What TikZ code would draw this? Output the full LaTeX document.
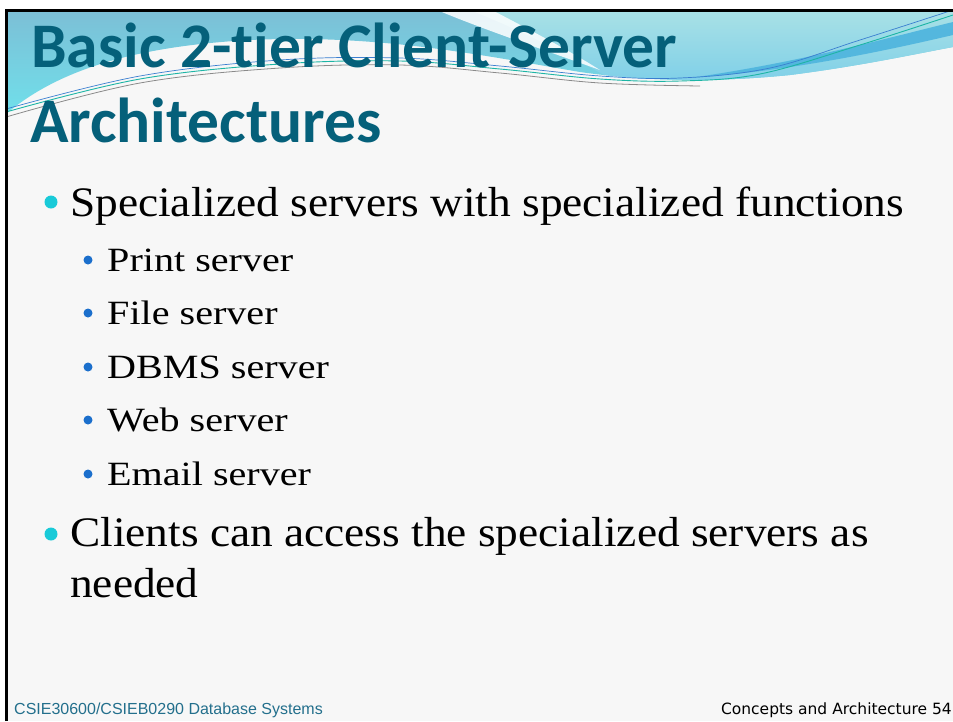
\documentclass[tikz,border=0pt]{standalone}
\usepackage{fontspec}
\newfontfamily\titlefont[Ligatures=NoCommon]{Carlito}
\newfontfamily\bodyfont[FakeStretch=1.08]{Liberation Serif}
\newfontfamily\subbodyfont[FakeStretch=1.18]{Liberation Serif}
\newfontfamily\footleftfont{Liberation Sans}
\newfontfamily\footrightfont{DejaVu Sans}
\definecolor{slidebg}{HTML}{F7F7F7}
\definecolor{titleblue}{HTML}{05607A}
\definecolor{leftTop}{HTML}{7CBFD6}
\definecolor{leftBot}{HTML}{70E0EB}
\definecolor{rightTop}{HTML}{A9E1E6}
\definecolor{rightBot}{HTML}{7ECFE8}
\definecolor{bandblue}{HTML}{4DB4DE}
\definecolor{lineteal}{HTML}{1DB5A5}
\definecolor{lineblue}{HTML}{3A7ED0}
\definecolor{linegray}{HTML}{8A8A8A}
\definecolor{bulletcyan}{HTML}{19CAD8}
\definecolor{bulletblue}{HTML}{1B6FCC}
\definecolor{footteal}{HTML}{236F8C}
\tikzset{
  titletext/.style={anchor=base west, inner sep=0pt, text=titleblue,
    font=\titlefont\bfseries\fontsize{63.5}{63.5}\selectfont},
  leveltext/.style={anchor=base west, inner sep=0pt, text=black,
    font=\bodyfont\fontsize{42}{42}\selectfont},
  subleveltext/.style={anchor=base west, inner sep=0pt, text=black,
    font=\subbodyfont\fontsize{34}{34}\selectfont},
  dotA/.style={circle, fill=bulletcyan, inner sep=0pt, minimum size=13pt},
  dotB/.style={circle, fill=bulletblue, inner sep=0pt, minimum size=9pt},
}
\begin{document}
\begin{tikzpicture}[x=1pt,y=-1pt]
\useasboundingbox (0,0) rectangle (953,721);
\fill[white] (0,0) rectangle (953,721);
\fill[slidebg] (6.5,10.5) rectangle (953,721);

\begin{scope}
\clip (6.5,10.5) rectangle (953,721);
% header band
\begin{scope}
\clip (6,10) -- (953,10) -- (953,47)
  .. controls (910,55) and (860,66) .. (790,75)
  .. controls (720,82) and (650,82) .. (580,72)
  .. controls (480,55) and (380,34) .. (250,40)
  .. controls (140,46) and (60,68) .. (6,114) -- cycle;
\shade[top color=leftTop, bottom color=leftBot] (0,10) rectangle (953,116);
% lighter part right of the white swoosh
\shade[top color=rightTop, bottom color=rightBot]
  (470,10) .. controls (520,30) and (560,50) .. (620,84) -- (953,84) -- (953,10) -- cycle;
% white swoosh
\fill[white, opacity=0.85]
  (437,10) .. controls (480,28) and (530,45) .. (600,70)
  .. controls (560,45) and (520,25) .. (492,10) -- cycle;
% darker blue band on the right
\fill[bandblue, opacity=0.9]
  (690,78) .. controls (800,62) and (880,40) .. (953,22) -- (953,35)
  .. controls (880,52) and (790,71) .. (690,78) -- cycle;
\end{scope}
% thin lines across the header
\draw[linegray, line width=0.8pt]
  plot[smooth, tension=0.6] coordinates {(6,117) (140,83) (280,68) (400,65) (500,73) (600,83) (700,86)};
\draw[lineteal, line width=0.9pt]
  plot[smooth, tension=0.6] coordinates {(6,112) (140,79) (280,64) (400,61) (500,69) (600,79) (680,81) (760,74) (860,45) (953,15)};
\draw[lineblue, line width=0.7pt]
  plot[smooth, tension=0.6] coordinates {(6,109) (140,76) (280,60) (400,58) (500,66) (600,76) (680,78) (770,68) (860,40) (953,10)};
\end{scope}

% slide frame
\draw[black, line width=3pt] (6.5,721) -- (6.5,10.5) -- (953,10.5);

% title
\node[titletext] (t1) at (31,67) {Basic 2-tier Client-Server};
\node[titletext] (t2) at (30,142) {Architectures};

% first level bullets
\node[dotA] (b1) at (51,202) {};
\node[leveltext] (l1) at (70,216) {Specialized servers with specialized functions};
\node[dotA] (b2) at (51,534) {};
\node[leveltext] (l2) at (70,546) {Clients can access the specialized servers as};
\node[leveltext] (l2b) at (70,597) {needed};

% second level bullets
\node[dotB] (s1) at (88,260) {};
\node[subleveltext] (p1) at (107,271) {Print server};
\node[dotB] (s2) at (88,313) {};
\node[subleveltext] (p2) at (107,324) {File server};
\node[dotB] (s3) at (88,367) {};
\node[subleveltext] (p3) at (107,378) {DBMS server};
\node[dotB] (s4) at (88,420) {};
\node[subleveltext] (p4) at (107,431) {Web server};
\node[dotB] (s5) at (88,474) {};
\node[subleveltext] (p5) at (107,485) {Email server};

% footer
\node[anchor=base west, inner sep=0pt, text=footteal,
  font=\footleftfont\fontsize{16}{16}\selectfont] (f1) at (14,714)
  {CSIE30600/CSIEB0290 Database Systems};
\node[anchor=base east, inner sep=0pt, text=black,
  font=\footrightfont\fontsize{15.5}{15.5}\selectfont] (f2) at (952,714)
  {Concepts and Architecture 54};
\end{tikzpicture}
\end{document}
